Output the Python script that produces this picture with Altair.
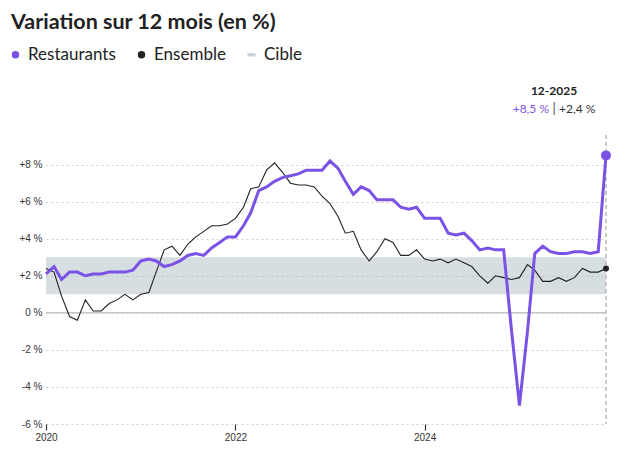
import altair as alt
import pandas as pd

# ---- data (monthly, Jan 2020 -> Dec 2025) ----
MONTHS = [f"{y}-{m:02d}-01" for y in range(2020, 2026) for m in range(1, 13)]

RESTAURANTS = [
    2.1, 2.5, 1.8, 2.2, 2.2, 2.0, 2.1, 2.1, 2.2, 2.2, 2.2, 2.3,   # 2020
    2.8, 2.9, 2.8, 2.5, 2.6, 2.8, 3.1, 3.2, 3.1, 3.5, 3.8, 4.1,   # 2021
    4.1, 4.7, 5.4, 6.6, 6.8, 7.1, 7.3, 7.4, 7.5, 7.7, 7.7, 7.7,   # 2022
    8.2, 7.8, 7.1, 6.4, 6.8, 6.6, 6.1, 6.1, 6.1, 5.7, 5.6, 5.7,   # 2023
    5.1, 5.1, 5.1, 4.3, 4.2, 4.3, 3.9, 3.4, 3.5, 3.4, 3.4, -0.9,  # 2024
    -5.0, -1.0, 3.2, 3.6, 3.3, 3.2, 3.2, 3.3, 3.3, 3.2, 3.3, 8.5, # 2025
]
ENSEMBLE = [
    2.4, 2.2, 0.9, -0.2, -0.4, 0.7, 0.1, 0.1, 0.5, 0.7, 1.0, 0.7,  # 2020
    1.0, 1.1, 2.2, 3.4, 3.6, 3.1, 3.7, 4.1, 4.4, 4.7, 4.7, 4.8,    # 2021
    5.1, 5.7, 6.7, 6.8, 7.7, 8.1, 7.6, 7.0, 6.9, 6.9, 6.8, 6.3,    # 2022
    5.9, 5.2, 4.3, 4.4, 3.4, 2.8, 3.3, 4.0, 3.8, 3.1, 3.1, 3.4,    # 2023
    2.9, 2.8, 2.9, 2.7, 2.9, 2.7, 2.5, 2.0, 1.6, 2.0, 1.9, 1.8,    # 2024
    1.9, 2.6, 2.3, 1.7, 1.7, 1.9, 1.7, 1.9, 2.4, 2.2, 2.2, 2.4,    # 2025
]
CIBLE = [1, 3]
SERIES = ["Restaurants", "Ensemble", "Cible"]
COLORS = ["#7b52e6", "#222222", "#c9d3d7"]
Y_TICKS = [-6, -4, -2, 0, 2, 4, 6, 8]
X_TICK_YEARS = [2020, 2022, 2024]

PURPLE, BLACK = COLORS[0], COLORS[1]
FONT = "Lato"
AXFONT = "Liberation Sans"

def fmt(v):
    return ("+" if v > 0 else "") + f"{v:.1f}".replace(".", ",") + " %"

df = pd.DataFrame({"date": MONTHS, "Restaurants": RESTAURANTS, "Ensemble": ENSEMBLE})
last = pd.DataFrame({
    "date": [MONTHS[-1]],
    "Restaurants": [RESTAURANTS[-1]],
    "Ensemble": [ENSEMBLE[-1]],
    "label": [MONTHS[-1][5:7] + "-" + MONTHS[-1][:4]],
    "rtxt": [fmt(RESTAURANTS[-1])],
    "etxt": [fmt(ENSEMBLE[-1])],
})
band = pd.DataFrame({"start": [MONTHS[0]], "end": [MONTHS[-1]], "lo": [CIBLE[0]], "hi": [CIBLE[1]]})
zero = pd.DataFrame({"v": [0]})
legend_df = pd.DataFrame({"serie": SERIES, "date": [MONTHS[0]] * 3, "v": [0, 0, 0]})

xscale = alt.Scale(type="utc", nice=False,
                   domain=[alt.DateTime(year=2020, month=1, date=1, utc=True),
                           alt.DateTime(year=2025, month=12, date=1, utc=True)])
yscale = alt.Scale(domain=[-6, 9.6], nice=False, zero=False)

xaxis = alt.Axis(
    title=None, grid=False, domain=False, ticks=True, tickSize=6, tickColor="#333",
    tickWidth=1.2, labelPadding=2, labelFlush=False,
    values=[alt.DateTime(year=y, month=1, date=1, utc=True) for y in X_TICK_YEARS],
    labelExpr="utcFormat(datum.value, '%Y')", labelFont=AXFONT, labelFontSize=10,
    labelColor="#333",
)
yaxis = alt.Axis(
    title=None, values=Y_TICKS, domain=False, ticks=False, labelPadding=4,
    grid=True, gridColor="#cfcfcf", gridDash=[2, 3], gridWidth=1,
    labelExpr="(datum.value > 0 ? '+' : '') + datum.value + ' %'",
    labelFont=AXFONT, labelFontSize=10, labelColor="#333",
)

X = alt.X("date:T", scale=xscale, axis=xaxis)

def Y(field):
    return alt.Y(field, scale=yscale, axis=yaxis)

band_l = alt.Chart(band).mark_rect(color="#aebdc3", opacity=0.5).encode(
    x=alt.X("start:T", scale=xscale, axis=xaxis), x2="end:T",
    y=Y("lo:Q"), y2="hi:Q",
)
zero_l = alt.Chart(zero).mark_rule(color="#c8c8c8", strokeWidth=1.5).encode(y=Y("v:Q"))
vrule = alt.Chart(last).mark_rule(color="#bbbbbb", strokeDash=[4, 3], strokeWidth=1.5).encode(x=X)

ens_line = alt.Chart(df).mark_line(color=BLACK, strokeWidth=1.1).encode(x=X, y=Y("Ensemble:Q"))
res_line = alt.Chart(df).mark_line(color=PURPLE, strokeWidth=3).encode(x=X, y=Y("Restaurants:Q"))
res_pt = alt.Chart(last).mark_point(filled=True, color=PURPLE, size=100, opacity=1).encode(
    x=X, y=Y("Restaurants:Q"))
ens_pt = alt.Chart(last).mark_point(filled=True, color=BLACK, size=36, opacity=1).encode(
    x=X, y=Y("Ensemble:Q"))

leg = alt.Legend(
    title=None, orient="none", legendX=-39, legendY=-89, direction="horizontal", padding=0,
    labelFont=FONT, labelFontSize=17, labelColor="#222", symbolSize=56,
    symbolStrokeWidth=0, symbolOpacity=1, labelOffset=4, columnPadding=17,
)
legend_l = alt.Chart(legend_df).mark_point(filled=True, opacity=0, size=56).encode(
    x=X, y=Y("v:Q"),
    color=alt.Color("serie:N", scale=alt.Scale(domain=SERIES, range=COLORS), legend=leg),
    shape=alt.Shape("serie:N", scale=alt.Scale(domain=SERIES,
                    range=["circle", "circle", "M-1.1,-0.45H1.1V0.45H-1.1Z"]), legend=leg),
)

t_date = alt.Chart(last).mark_text(font=FONT, fontSize=12, fontWeight="bold", color="#222",
                                   align="center", baseline="middle", dx=-52).encode(
    x=X, y=alt.value(-44), text="label:N")
t_r = alt.Chart(last).mark_text(font=FONT, fontSize=12, color=PURPLE, align="right",
                                baseline="middle", dx=-57).encode(
    x=X, y=alt.value(-26), text="rtxt:N")
t_bar = alt.Chart(last).mark_text(font=FONT, fontSize=13, color="#444", align="center",
                                  baseline="middle", dx=-52).encode(
    x=X, y=alt.value(-26), text=alt.value("|"))
t_e = alt.Chart(last).mark_text(font=FONT, fontSize=12, color="#333", align="left",
                                baseline="middle", dx=-47).encode(
    x=X, y=alt.value(-26), text="etxt:N")

chart = alt.layer(
    band_l, zero_l, vrule, ens_line, res_line, res_pt, ens_pt, legend_l, t_date, t_r, t_bar, t_e
).properties(
    width=560, height=289,
    title=alt.TitleParams("Variation sur 12 mois (en %)", anchor="start", font=FONT,
                          fontSize=21.5, fontWeight="bold", color="#222", offset=13, dx=4),
    padding={"left": -1, "top": 3, "right": 5, "bottom": 5},
).configure_view(stroke=None)

chart.save("out.html", embed_options={"renderer": "svg", "actions": False})
